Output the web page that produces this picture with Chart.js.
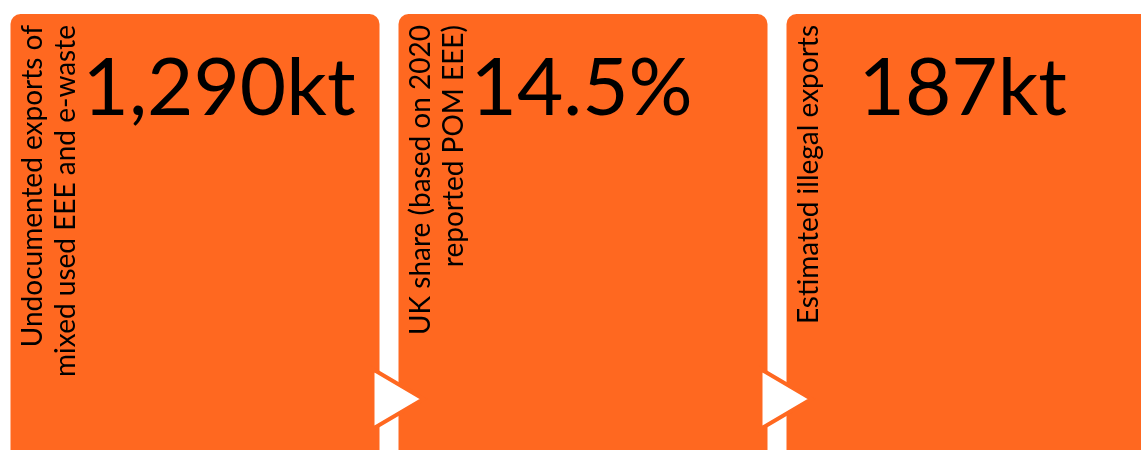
<!DOCTYPE html>
<html>
<head>
<meta charset="utf-8">
<script src="https://cdn.jsdelivr.net/npm/chart.js@4.4.1/dist/chart.umd.min.js"></script>
<style>
    html, body { margin: 0; padding: 0; background: #fff; overflow: hidden; }
    #tilesChart { display: block; }
</style>
</head>
<body>
<canvas id="tilesChart" width="1166" height="480"></canvas>
<script>
// Tile captions (each line of the rotated text)
const labelLines = [
    ['Undocumented exports of', 'mixed used EEE and e-waste'],
    ['UK share (based on 2020', 'reported POM EEE)'],
    ['Estimated illegal exports']
];
const categories = labelLines.map(lines => lines.join(' '));
const values = [1290, 14.5, 187];
const units = ['kt', '%', 'kt'];
// every tile is the same full height
const tileHeights = [1, 1, 1];

const orange = '#FF6820';

// Draw captions, big numbers and the arrows between tiles
const tilePlugin = {
    id: 'tileText',
    afterDatasetsDraw(chart) {
        const ctx = chart.ctx;
        const bars = chart.getDatasetMeta(0).data;

        bars.forEach((bar, i) => {
            const left = bar.x - bar.width / 2;
            const top = bar.y;

            ctx.save();
            ctx.fillStyle = '#000';
            ctx.translate(left, top);
            ctx.rotate(-Math.PI / 2);
            ctx.font = '28px Lato';
            ctx.textAlign = 'right';
            ctx.textBaseline = 'alphabetic';
            labelLines[i].forEach((line, j) => {
                ctx.fillText(line, -11, 31 + j * 33);
            });
            ctx.restore();

            ctx.save();
            ctx.fillStyle = '#000';
            ctx.font = '80px Lato';
            ctx.textAlign = 'left';
            ctx.textBaseline = 'alphabetic';
            ctx.fillText(values[i].toLocaleString('en-US') + units[i], left + 72, top + 101);
            ctx.restore();
        });

        for (let i = 0; i < bars.length - 1; i++) {
            const right = bars[i].x + bars[i].width / 2;
            const nextLeft = bars[i + 1].x - bars[i + 1].width / 2;
            const top = bars[i].y;
            ctx.save();
            ctx.beginPath();
            ctx.moveTo(right - 7, top + 355);
            ctx.lineTo(nextLeft + 25, top + 385);
            ctx.lineTo(right - 7, top + 415);
            ctx.closePath();
            ctx.fillStyle = '#fff';
            ctx.fill();
            ctx.lineWidth = 4;
            ctx.strokeStyle = orange;
            ctx.stroke();
            ctx.restore();
        }
    }
};

const ctx = document.getElementById('tilesChart');
const myChart = new Chart(ctx, {
    type: 'bar',
    data: {
        labels: categories,
        datasets: [{
            data: tileHeights,
            backgroundColor: orange,
            borderRadius: 10,
            borderSkipped: false,
            categoryPercentage: 1,
            barPercentage: 369 / 388
        }]
    },
    options: {
        responsive: false,
        animation: false,
        layout: {
            padding: { left: 1, right: 1, top: 14, bottom: 0 }
        },
        scales: {
            x: { display: false },
            y: { display: false, min: 0, max: 1 }
        },
        plugins: {
            legend: { display: false },
            tooltip: { enabled: false }
        }
    },
    plugins: [tilePlugin]
});
</script>
</body>
</html>
